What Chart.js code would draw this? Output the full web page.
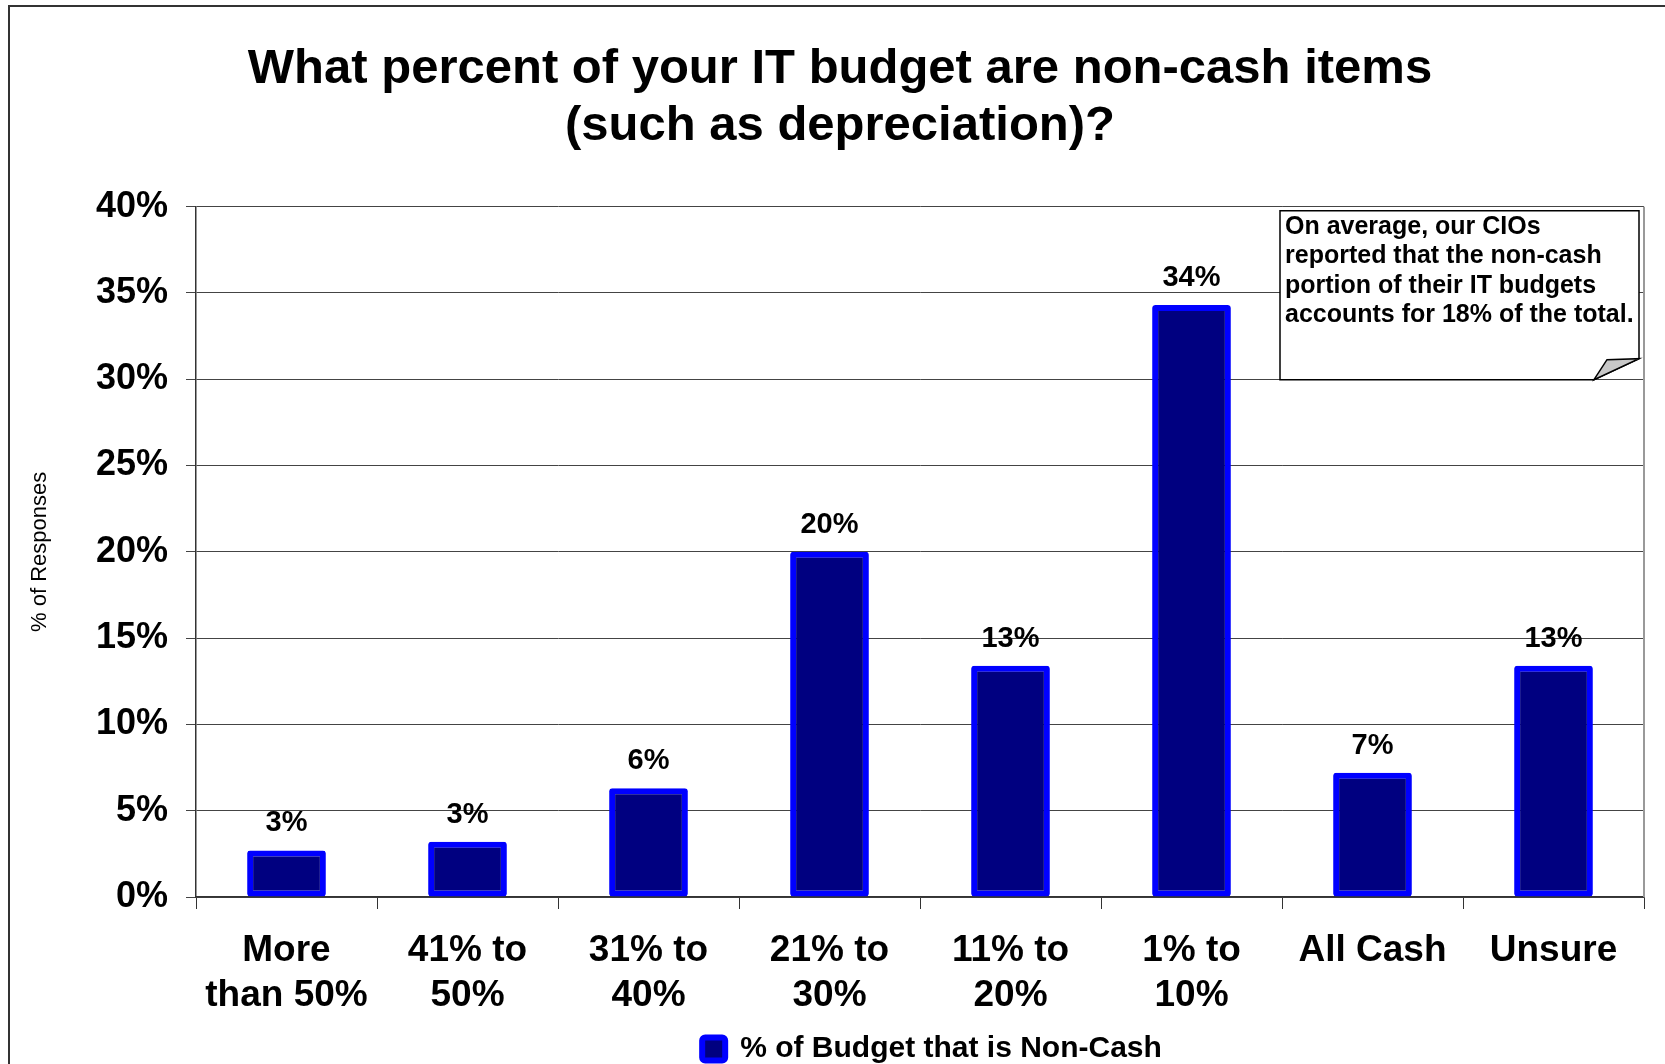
<!DOCTYPE html>
<html lang="en">
<head>
<meta charset="UTF-8">
<title>Non-cash share of IT budget</title>
<script src="https://cdn.jsdelivr.net/npm/chart.js"></script>
<style>
  html, body { margin: 0; padding: 0; background: #fff; }
  #wrap { width: 1665px; height: 1064px; }
</style>
</head>
<body>
<div id="wrap"><canvas id="budgetChart"></canvas></div>
<script>
// answer buckets and share of responses (%)
const categories = [["More", "than 50%"], ["41% to", "50%"], ["31% to", "40%"], ["21% to", "30%"],
                    ["11% to", "20%"], ["1% to", "10%"], "All Cash", "Unsure"];
const responses = [2.7, 3.2, 6.3, 20.0, 13.4, 34.3, 7.2, 13.4];
const yTicks = [0, 5, 10, 15, 20, 25, 30, 35, 40];
const seriesName = "% of Budget that is Non-Cash";
const titleLines = ["What percent of your IT budget are non-cash items", "(such as depreciation)?"];
const noteLines = ["On average, our CIOs", "reported that the non-cash",
                   "portion of their IT budgets", "accounts for 18% of the total."];

const FONT = "'Liberation Sans', Arial, Helvetica, sans-serif";
Chart.defaults.font.family = FONT;
Chart.defaults.color = "#000";

// white page with the dark frame round it
const framePlugin = {
    id: "frame",
    afterLayout(chart) {
        // nudge the legend a little right of the plot centre
        if (chart.legend) {
            chart.legend.left += 12;
            chart.legend.right += 12;
        }
    },
    beforeDraw(chart) {
        const ctx = chart.ctx;
        ctx.save();
        ctx.fillStyle = "#fff";
        ctx.fillRect(0, 0, chart.width, chart.height);
        ctx.strokeStyle = "#333";
        ctx.lineWidth = 2;
        ctx.strokeRect(9, 6, chart.width + 40, chart.height + 40);
        ctx.restore();
    },
    beforeDatasetsDraw(chart) {
        // grey edge on the right of the plot
        const a = chart.chartArea, ctx = chart.ctx;
        ctx.save();
        ctx.strokeStyle = "#999";
        ctx.lineWidth = 2;
        ctx.beginPath();
        ctx.moveTo(a.right, a.top);
        ctx.lineTo(a.right, a.bottom);
        ctx.stroke();
        ctx.restore();
    }
};

// percentage above each bar
const valueLabels = {
    id: "valueLabels",
    afterDatasetsDraw(chart) {
        const ctx = chart.ctx;
        const meta = chart.getDatasetMeta(0);
        ctx.save();
        ctx.font = "bold 29px " + FONT;
        ctx.fillStyle = "#000";
        ctx.textAlign = "center";
        ctx.textBaseline = "middle";
        meta.data.forEach((bar, i) => {
            ctx.fillText(Math.round(responses[i]) + "%", bar.x, bar.y - 27);
        });
        ctx.restore();
    }
};

// note box with a curled corner, top right of the plot
const noteBox = {
    id: "noteBox",
    afterDraw(chart) {
        const a = chart.chartArea, ctx = chart.ctx;
        const left = a.right - 364, right = a.right - 5;
        const top = a.top + 4, bottom = a.top + 173;
        ctx.save();
        ctx.lineWidth = 1.5;
        ctx.strokeStyle = "#000";
        ctx.fillStyle = "#fff";
        ctx.beginPath();
        ctx.moveTo(left, top);
        ctx.lineTo(right, top);
        ctx.lineTo(right, bottom - 21);
        ctx.lineTo(right - 45, bottom);
        ctx.lineTo(left, bottom);
        ctx.closePath();
        ctx.fill();
        ctx.stroke();

        ctx.fillStyle = "#c8c8c8";
        ctx.beginPath();
        ctx.moveTo(right - 45, bottom);
        ctx.lineTo(right - 32, bottom - 20);
        ctx.lineTo(right, bottom - 21);
        ctx.closePath();
        ctx.fill();
        ctx.stroke();

        ctx.fillStyle = "#000";
        ctx.font = "bold 25px " + FONT;
        ctx.textAlign = "left";
        ctx.textBaseline = "alphabetic";
        noteLines.forEach((line, i) => {
            ctx.fillText(line, left + 5, top + 23 + i * 29.5);
        });
        ctx.restore();
    }
};

new Chart(document.getElementById("budgetChart"), {
    type: "bar",
    data: {
        labels: categories,
        datasets: [{
            label: seriesName,
            data: responses,
            backgroundColor: "#000080",
            borderColor: "#0000ff",
            borderWidth: 6,
            borderRadius: 3,
            borderSkipped: false,
            categoryPercentage: 0.87,
            barPercentage: 0.5
        }]
    },
    options: {
        responsive: true,
        maintainAspectRatio: false,
        animation: false,
        layout: { padding: { left: 36, right: 21, top: 0, bottom: -10 } },
        plugins: {
            title: {
                display: true,
                text: titleLines,
                color: "#000",
                font: { size: 49, weight: "bold", lineHeight: 1.16 },
                padding: { top: 41, bottom: 52 }
            },
            legend: {
                position: "bottom",
                fullSize: false,
                labels: {
                    boxWidth: 23,
                    boxHeight: 23,
                    useBorderRadius: true,
                    borderRadius: 3,
                    padding: 10,
                    color: "#000",
                    font: { size: 30, weight: "bold" }
                }
            },
            tooltip: { enabled: false }
        },
        scales: {
            x: {
                grid: {
                    display: true,
                    drawOnChartArea: false,
                    drawTicks: true,
                    tickLength: 12,
                    offset: true,
                    color: "#333"
                },
                border: { color: "#333", width: 1.5 },
                ticks: {
                    padding: 19,
                    maxRotation: 0,
                    autoSkip: false,
                    color: "#000",
                    font: { size: 37, weight: "bold", lineHeight: 1.22 }
                },
                afterFit(scale) { scale.height = 127; }
            },
            y: {
                min: 0,
                max: 40,
                afterBuildTicks(scale) { scale.ticks = yTicks.map(v => ({ value: v })); },
                grid: { color: "#444", lineWidth: 1, tickLength: 10 },
                border: { color: "#333", width: 1.5 },
                ticks: {
                    padding: 18,
                    color: "#000",
                    font: { size: 36, weight: "bold" },
                    callback: v => v + "%"
                },
                title: {
                    display: true,
                    text: "% of Responses",
                    color: "#000",
                    font: { size: 22 },
                    padding: { top: -9, bottom: 0 }
                },
                afterFit(scale) { scale.width = 160; }
            }
        }
    },
    plugins: [framePlugin, valueLabels, noteBox]
});
</script>
</body>
</html>
